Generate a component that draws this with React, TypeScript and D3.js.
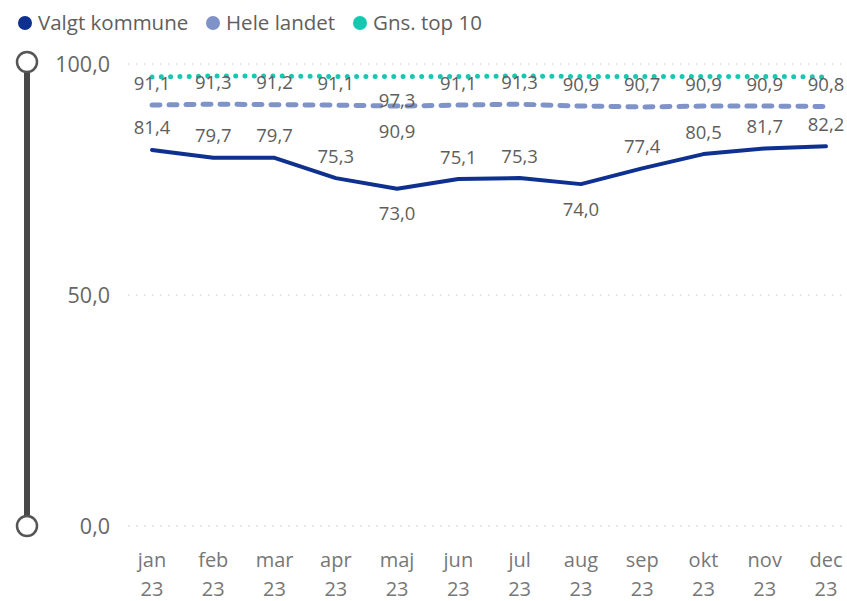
import React from "react";
import * as d3 from "d3";

const months = ["jan", "feb", "mar", "apr", "maj", "jun", "jul", "aug", "sep", "okt", "nov", "dec"];
const yearLabel = "23";
const valgt = [81.4, 79.7, 79.7, 75.3, 73.0, 75.1, 75.3, 74.0, 77.4, 80.5, 81.7, 82.2];
const hele = [91.1, 91.3, 91.2, 91.1, 90.9, 91.1, 91.3, 90.9, 90.7, 90.9, 90.9, 90.8];
const top10 = [97.2, 97.4, 97.4, 97.3, 97.3, 97.3, 97.4, 97.3, 97.3, 97.3, 97.3, 97.2];
const valgtBelow = [false, false, false, false, true, false, false, true, false, false, false, false];
const heleBelow = [false, false, false, false, true, false, false, false, false, false, false, false];
const top10Shown = [false, false, false, false, true, false, false, false, false, false, false, false];
const yTicks = [0, 50, 100];
const seriesNames = ["Valgt kommune", "Hele landet", "Gns. top 10"];
const colors = ["#0E3190", "#7F93C9", "#15C8B0"];

const fmt = (v: number) => v.toFixed(1).replace(".", ",");
const FONT = "'Open Sans', 'Noto Sans', sans-serif";

export default function App() {
  const W = 847, H = 601;
  const x = d3.scalePoint<string>().domain(months).range([152, 826]);
  const y = d3.scaleLinear().domain([0, 100]).range([526, 64]);
  const line = (vals: number[]) =>
    d3.line<number>().x((_, i) => x(months[i])!).y((d) => y(d))(vals) || "";

  const legendX = [25, 213, 360];

  return (
    <svg width={W} height={H} style={{ position: "absolute", left: 0, top: 0, background: "#fff" }} fontFamily={FONT}>
      {/* legend */}
      {seriesNames.map((n, i) => (
        <g key={n}>
          <circle cx={legendX[i]} cy={23} r={7} fill={colors[i]} />
          <text x={legendX[i] + 13} y={30} fontSize={20.5} fill="#605E5C">{n}</text>
        </g>
      ))}

      {/* scroll bar */}
      <line x1={27} x2={27} y1={72} y2={516} stroke="#484848" strokeWidth={6} />
      <circle cx={27} cy={62} r={10} fill="#fff" stroke="#555" strokeWidth={2.5} />
      <circle cx={27} cy={526} r={10} fill="#fff" stroke="#555" strokeWidth={2.5} />

      {/* grid + y ticks */}
      {yTicks.map((t) => (
        <g key={t}>
          <line x1={128} x2={842} y1={y(t)} y2={y(t)} stroke="#c8c8c8" strokeWidth={1} strokeDasharray="1.5 6.5" />
          <text x={110} y={y(t)} dy="0.35em" textAnchor="end" fontSize={21.5} fill="#666">{fmt(t)}</text>
        </g>
      ))}

      {/* x axis */}
      {months.map((m) => (
        <g key={m}>
          <text x={x(m)} y={567} textAnchor="middle" fontSize={20} fill="#777">{m}</text>
          <text x={x(m)} y={596} textAnchor="middle" fontSize={20} fill="#777">{yearLabel}</text>
        </g>
      ))}

      {/* lines */}
      <path d={line(top10)} fill="none" stroke={colors[2]} strokeWidth={5} strokeLinecap="round" strokeDasharray="0 9.3" />
      <path d={line(hele)} fill="none" stroke={colors[1]} strokeWidth={5} strokeLinecap="round" strokeDasharray="8 9" />
      <path d={line(valgt)} fill="none" stroke={colors[0]} strokeWidth={4} strokeLinejoin="round" strokeLinecap="round" />

      {/* data labels */}
      {valgt.map((v, i) => (
        <text key={"v" + i} x={x(months[i])} y={y(v) + (valgtBelow[i] ? 25 : -22)} dy="0.35em" textAnchor="middle" fontSize={18.5} fill="#605E5C">{fmt(v)}</text>
      ))}
      {hele.map((v, i) => (
        <text key={"h" + i} x={x(months[i])} y={y(v) + (heleBelow[i] ? 25 : -22)} dy="0.35em" textAnchor="middle" fontSize={18.5} fill="#605E5C">{fmt(v)}</text>
      ))}
      {top10.map((v, i) =>
        top10Shown[i] ? (
          <text key={"t" + i} x={x(months[i])} y={y(v) + 24} dy="0.35em" textAnchor="middle" fontSize={18.5} fill="#605E5C">{fmt(v)}</text>
        ) : null
      )}
    </svg>
  );
}
